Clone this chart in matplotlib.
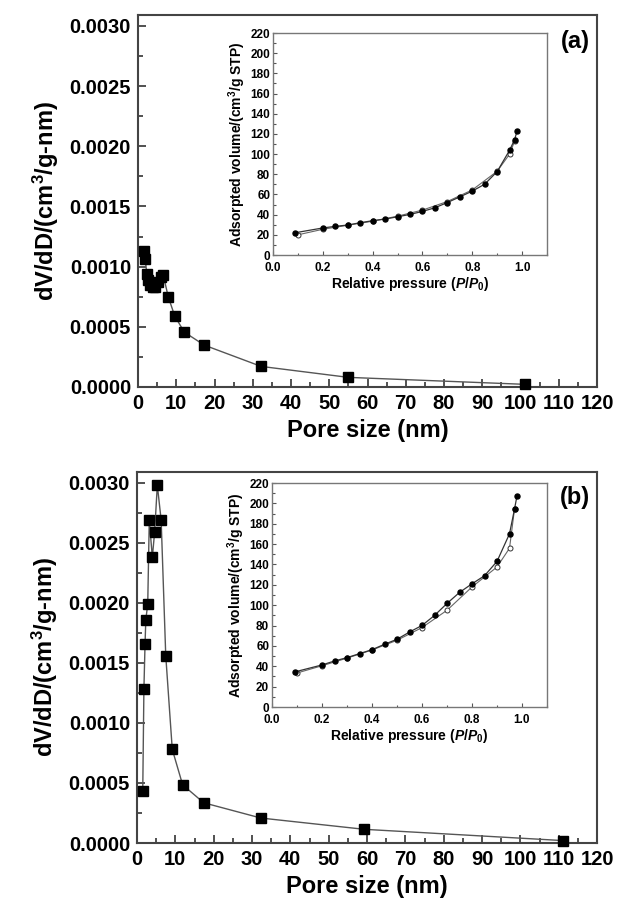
import matplotlib
matplotlib.use("Agg")
import matplotlib.pyplot as plt
from matplotlib.ticker import MultipleLocator

plt.rcParams['font.family'] = ['Liberation Sans', 'DejaVu Sans']
plt.rcParams['font.weight'] = 'bold'
plt.rcParams['mathtext.fontset'] = 'custom'
plt.rcParams['mathtext.rm'] = 'Liberation Sans:bold'
plt.rcParams['mathtext.it'] = 'Liberation Sans:bold:italic'
plt.rcParams['mathtext.bf'] = 'Liberation Sans:bold'

# ---- Panel (a): pore size distribution ----
psd_a_x = [1.6, 1.9, 2.3, 2.7, 3.1, 3.8, 4.4, 5.3, 5.9, 6.6, 7.9, 9.6, 12.1, 17.3, 32.2, 55.0, 101.2]
psd_a_y = [0.00113, 0.00106, 0.00094, 0.00089, 0.00085, 0.00083, 0.00083, 0.00087, 0.00091,
           0.00093, 0.00075, 0.00059, 0.000456, 0.000348, 0.000171, 0.00008, 0.000022]

# ---- Panel (b): pore size distribution ----
psd_b_x = [1.5, 1.8, 2.1, 2.3, 2.8, 3.2, 4.0, 4.6, 5.3, 6.3, 7.5, 9.2, 11.9, 17.4, 32.3, 59.3, 111.2]
psd_b_y = [0.000434, 0.00128, 0.00166, 0.00186, 0.00199, 0.00269, 0.00238, 0.00259, 0.00298,
           0.00269, 0.00156, 0.00078, 0.000485, 0.000335, 0.000208, 0.000114, 0.00002]

# ---- Inset (a): isotherm ----
iso_a_p = [0.09, 0.20, 0.25, 0.30, 0.35, 0.40, 0.45, 0.50, 0.55, 0.60, 0.65, 0.70, 0.75, 0.80,
           0.85, 0.90, 0.95, 0.97, 0.98]
iso_a_ads = [22.1, 26.8, 28.4, 29.7, 32.0, 34.0, 35.6, 37.9, 40.2, 43.2, 46.8, 52.0, 57.6, 63.3,
             70.2, 82.7, 103.9, 114.4, 123.0]
iso_a_des_p = [0.97, 0.95, 0.90, 0.80, 0.70, 0.60, 0.50, 0.40, 0.30, 0.20, 0.10]
iso_a_des = [113.0, 100.0, 83.0, 64.5, 53.0, 44.5, 38.5, 33.5, 29.5, 25.5, 20.0]

# ---- Inset (b): isotherm ----
iso_b_p = [0.09, 0.20, 0.25, 0.30, 0.35, 0.40, 0.45, 0.50, 0.55, 0.60, 0.65, 0.70, 0.75, 0.80,
           0.85, 0.90, 0.95, 0.97, 0.98]
iso_b_ads = [34.4, 41.3, 45.2, 48.5, 52.4, 56.3, 61.6, 66.5, 73.6, 80.1, 89.9, 101.7, 112.5, 121.0,
             128.9, 143.0, 170.1, 194.3, 207.4]
iso_b_des_p = [0.97, 0.95, 0.90, 0.80, 0.70, 0.60, 0.50, 0.40, 0.30, 0.20, 0.10]
iso_b_des = [194.3, 155.9, 137.5, 117.9, 95.0, 78.0, 65.5, 56.0, 48.0, 40.5, 33.4]

W, H = 617, 905
fig = plt.figure(figsize=(W / 100, H / 100), dpi=100)

def frac(l, t, r, b):
    return [l / W, 1 - b / H, (r - l) / W, (b - t) / H]

main_boxes = [frac(138, 15, 597, 387), frac(137, 472, 597, 843)]
inset_boxes = [frac(273, 33, 547, 255), frac(272, 483, 547, 707)]
psd = [(psd_a_x, psd_a_y), (psd_b_x, psd_b_y)]
iso = [(iso_a_p, iso_a_ads, iso_a_des_p, iso_a_des), (iso_b_p, iso_b_ads, iso_b_des_p, iso_b_des)]
tags = ['(a)', '(b)']

for i in range(2):
    ax = fig.add_axes(main_boxes[i])
    x, y = psd[i]
    ax.plot(x, y, '-', color='#555555', lw=1.0, zorder=2)
    ax.plot(x, y, 's', color='black', ms=6.8, mec='black', zorder=3, clip_on=False)
    ax.set_xlim(0, 120)
    ax.set_ylim(0, 0.00309)
    ax.xaxis.set_major_locator(MultipleLocator(10))
    ax.xaxis.set_minor_locator(MultipleLocator(5))
    ax.yaxis.set_major_locator(MultipleLocator(0.0005))
    ax.yaxis.set_minor_locator(MultipleLocator(0.00025))
    ax.set_yticks([0, 0.0005, 0.001, 0.0015, 0.002, 0.0025, 0.003])
    ax.set_yticklabels(['0.0000', '0.0005', '0.0010', '0.0015', '0.0020', '0.0025', '0.0030'])
    ax.tick_params(which='both', direction='in', labelsize=14.5, width=1.2, color='#333333')
    ax.tick_params(which='major', length=6, pad=5)
    ax.tick_params(which='minor', length=3.5)
    for lab in ax.get_xticklabels() + ax.get_yticklabels():
        lab.set_fontweight('bold')
    for s in ax.spines.values():
        s.set_color('#444444')
        s.set_linewidth(1.5)
    ax.set_xlabel('Pore size (nm)', fontsize=17, fontweight='bold', labelpad=4)
    ax.set_ylabel(r'dV/dD/(cm$^{3}$/g-nm)', fontsize=17, fontweight='bold', labelpad=6)
    ax.text(0.985, 0.93, tags[i], transform=ax.transAxes, ha='right', va='center',
            fontsize=17, fontweight='bold')

    ins = fig.add_axes(inset_boxes[i])
    p, a, dp, d = iso[i]
    ins.plot(dp, d, '-o', color='#666666', lw=0.8, ms=3.6, mfc='white', mec='#333333', mew=0.7, zorder=2)
    ins.plot(p, a, '-o', color='#333333', lw=0.9, ms=3.6, mfc='black', mec='black', zorder=3)
    ins.set_xlim(0, 1.1)
    ins.set_ylim(0, 220)
    ins.xaxis.set_major_locator(MultipleLocator(0.2))
    ins.xaxis.set_minor_locator(MultipleLocator(0.1))
    ins.yaxis.set_major_locator(MultipleLocator(20))
    ins.yaxis.set_minor_locator(MultipleLocator(10))
    ins.set_xticks([0, 0.2, 0.4, 0.6, 0.8, 1.0])
    ins.set_xticklabels(['0.0', '0.2', '0.4', '0.6', '0.8', '1.0'])
    ins.tick_params(which='both', direction='in', labelsize=8.5, width=0.8, color='#555555')
    ins.tick_params(axis='x', pad=5)
    ins.tick_params(axis='y', pad=2)
    ins.tick_params(which='major', length=3)
    ins.tick_params(which='minor', length=1.8)
    for lab in ins.get_xticklabels() + ins.get_yticklabels():
        lab.set_fontweight('bold')
    ins.get_yticklabels()[0].set_va('bottom')
    for s in ins.spines.values():
        s.set_color('#777777')
        s.set_linewidth(1.0)
    ins.set_xlabel(r'Relative pressure ($\mathit{P/P_0}$)', fontsize=10, fontweight='bold', labelpad=1)
    ins.set_ylabel(r'Adsorpted volume/(cm$^{3}$/g STP)', fontsize=10, fontweight='bold', labelpad=2)

fig.savefig('out.png', dpi=100)
